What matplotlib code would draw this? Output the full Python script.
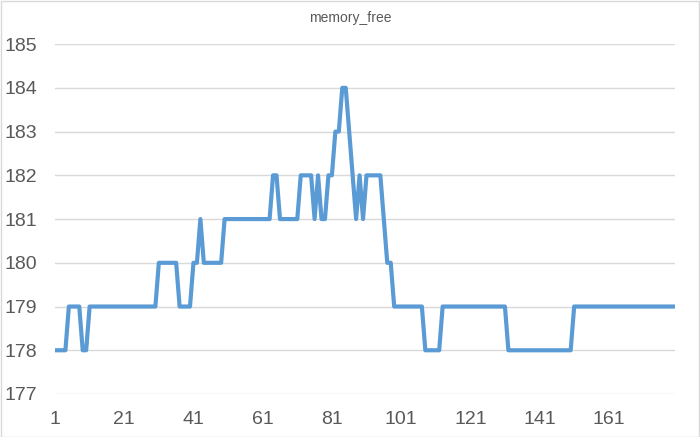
import matplotlib
matplotlib.use("Agg")
import matplotlib.pyplot as plt
from matplotlib.patches import Rectangle

plt.rcParams['font.family'] = ['Liberation Sans Narrow', 'Liberation Sans', 'DejaVu Sans']

# memory_free samples (sample 1..180)
memory_free = [
    178, 178, 178, 178, 179, 179, 179, 179, 178, 178,
    179, 179, 179, 179, 179, 179, 179, 179, 179, 179,
    179, 179, 179, 179, 179, 179, 179, 179, 179, 179,
    180, 180, 180, 180, 180, 180, 179, 179, 179, 179,
    180, 180, 181, 180, 180, 180, 180, 180, 180, 181,
    181, 181, 181, 181, 181, 181, 181, 181, 181, 181,
    181, 181, 181, 182, 182, 181, 181, 181, 181, 181,
    181, 182, 182, 182, 182, 181, 182, 181, 181, 182,
    182, 183, 183, 184, 184, 183, 182, 181, 182, 181,
    182, 182, 182, 182, 182, 181, 180, 180, 179, 179,
    179, 179, 179, 179, 179, 179, 179, 178, 178, 178,
    178, 178, 179, 179, 179, 179, 179, 179, 179, 179,
    179, 179, 179, 179, 179, 179, 179, 179, 179, 179,
    179, 178, 178, 178, 178, 178, 178, 178, 178, 178,
    178, 178, 178, 178, 178, 178, 178, 178, 178, 178,
    179, 179, 179, 179, 179, 179, 179, 179, 179, 179,
    179, 179, 179, 179, 179, 179, 179, 179, 179, 179,
    179, 179, 179, 179, 179, 179, 179, 179, 179, 179,
]
sample = list(range(1, len(memory_free) + 1))
x_ticks = [1, 21, 41, 61, 81, 101, 121, 141, 161]
y_ticks = [177, 178, 179, 180, 181, 182, 183, 184, 185]

fig = plt.figure(figsize=(7, 4.37), dpi=100)
ax = fig.add_axes([0.0786, 0.0984, 0.885, 0.8006])

ax.plot(sample, memory_free, color='#5B9BD5', linewidth=3.0, solid_joinstyle='round')

ax.set_xlim(1, len(memory_free))
ax.set_ylim(177, 185)
ax.set_xticks(x_ticks)
ax.set_yticks(y_ticks)
ax.grid(axis='y', color='#D9D9D9', linewidth=1)
ax.set_axisbelow(True)
for s in ax.spines.values():
    s.set_visible(False)
ax.tick_params(length=0, labelsize=14, labelcolor='#595959')
ax.tick_params(axis='x', pad=12)
ax.tick_params(axis='y', pad=13)

fig.text(0.5, 0.958, 'memory_free', ha='center', va='center', fontsize=10, color='#595959')

# light chart border like the spreadsheet export
fig.patches.append(Rectangle((0.001, 0.001), 0.997, 0.997, transform=fig.transFigure,
                             fill=False, edgecolor='#D9D9D9', linewidth=1))

fig.savefig('out.png', dpi=100)
